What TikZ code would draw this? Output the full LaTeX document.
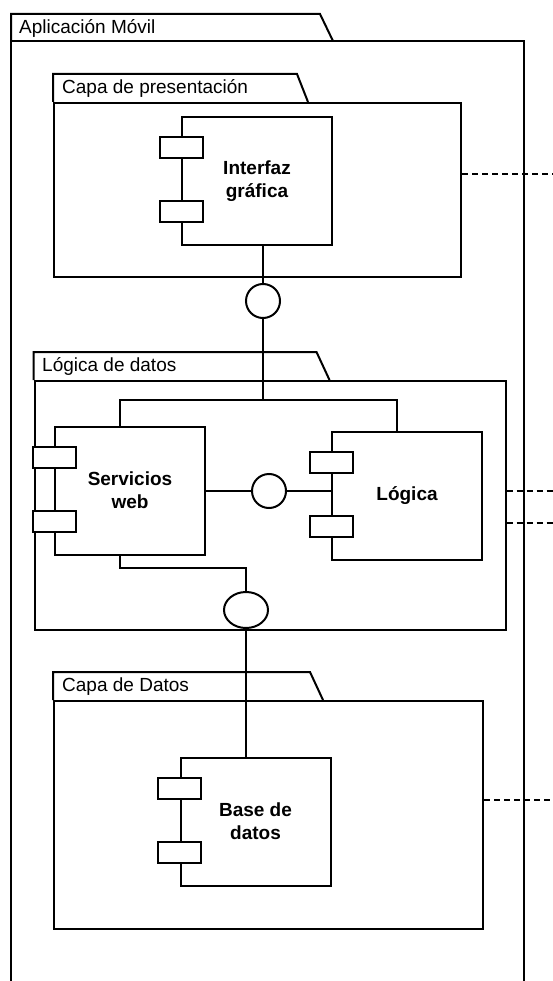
\documentclass[tikz,border=0pt]{standalone}
\usepackage{fontspec}
\setmainfont{Liberation Sans}
\usetikzlibrary{positioning, calc, shapes.geometric}
\tikzset{
  comp/.style={
    rectangle, draw=black, fill=white, line width=2pt,
    minimum width=150pt, minimum height=128pt, align=center,
    font=\fontsize{19}{23}\selectfont\bfseries
  },
  port/.style={
    rectangle, draw=black, fill=white, line width=2pt,
    minimum width=43pt, minimum height=21pt, inner sep=0pt
  },
  pkgbody/.style={
    rectangle, draw=black, line width=2pt, anchor=north west, inner sep=0pt
  },
  pkglabel/.style={
    anchor=base west, inner sep=0pt, font=\fontsize{19}{23}\selectfont
  },
  lollipop/.style={
    circle, draw=black, fill=white, line width=2pt, minimum size=34pt, inner sep=0pt
  },
  wire/.style={line width=2pt},
  dep/.style={line width=1.6pt, dash pattern=on 6pt off 4pt}
}

\begin{document}
\begin{tikzpicture}[x=1pt, y=-1pt]
    \useasboundingbox (0,0) rectangle (553,981);

    % Outer package
    \draw[wire] (11,981) -- (11,41) -- (524,41) -- (524,981);
    \draw[wire] (11,41) -- (11,14) -- (320,14) -- (333,41);
    \node[pkglabel] (applbl) at (19,33.3) {Aplicación Móvil};

    % Layer packages
    \node[pkgbody, minimum width=407pt, minimum height=174pt] (pres) at (53,102) {};
    \draw[wire] (pres.north west) -- ++(0,-28) -- ++(244,0) -- ++(11,28);
    \node[pkglabel] (preslbl) at (62,93.3) {Capa de presentación};

    \node[pkgbody, minimum width=471pt, minimum height=249pt] (logd) at (33.5,380) {};
    \draw[wire] (logd.north west) -- ++(0,-28) -- ++(283,0) -- ++(13,28);
    \node[pkglabel] (logdlbl) at (42,371) {Lógica de datos};

    \node[pkgbody, minimum width=429pt, minimum height=228pt] (datos) at (53,700) {};
    \draw[wire] (datos.north west) -- ++(0,-28) -- ++(257,0) -- ++(13,28);
    \node[pkglabel] (datoslbl) at (62,691) {Capa de Datos};

    % Components
    \node[comp] (iface) at (257,181) {Interfaz\\gráfica};
    \node[comp] (serv) at (130,490.5) {Servicios\\web};
    \node[comp] (logi) at (407,495.5) {Lógica};
    \node[comp] (base) at (255.5,821.5) {Base de\\datos};
    \foreach \c in {iface,serv,logi,base} {
      \node[port] (\c-p1) at ($(\c.north west)+(0,32)$) {};
      \node[port] (\c-p2) at ($(\c.north west)+(0,96)$) {};
    }

    % Interfaces
    \node[lollipop] (c1) at (263,301) {};
    \node[lollipop] (c2) at (269,491) {};
    \node[ellipse, draw=black, fill=white, line width=2pt, minimum width=44pt,
      minimum height=36pt, inner sep=0pt] (c3) at (246,610) {};

    \coordinate (barL) at (120,400);
    \coordinate (barR) at (397,400);
    \coordinate (low) at (246,568);

    % Wires
    \draw[wire] (iface.south -| c1) -- (c1);
    \draw[wire] (c1) -- (c1 |- barL);
    \draw[wire] (serv.north -| barL) -- (barL) -- (barR) -- (barR |- logi.north);
    \draw[wire] (serv.east |- c2) -- (c2);
    \draw[wire] (c2) -- (c2 -| logi.west);
    \draw[wire] (serv.south -| barL) -- (barL |- low) -- (low) -- (c3);
    \draw[wire] (c3) -- (base.north -| c3);

    % Dependencies
    \coordinate (d1) at (553,174);
    \coordinate (d2) at (553,491);
    \coordinate (d3) at (553,523);
    \coordinate (d4) at (553,800);
    \draw[dep] (d1 -| pres.east) -- (d1);
    \draw[dep] (d2 -| logd.east) -- (d2);
    \draw[dep] (d3 -| logd.east) -- (d3);
    \draw[dep] (d4 -| datos.east) -- (d4);

\end{tikzpicture}
\end{document}
